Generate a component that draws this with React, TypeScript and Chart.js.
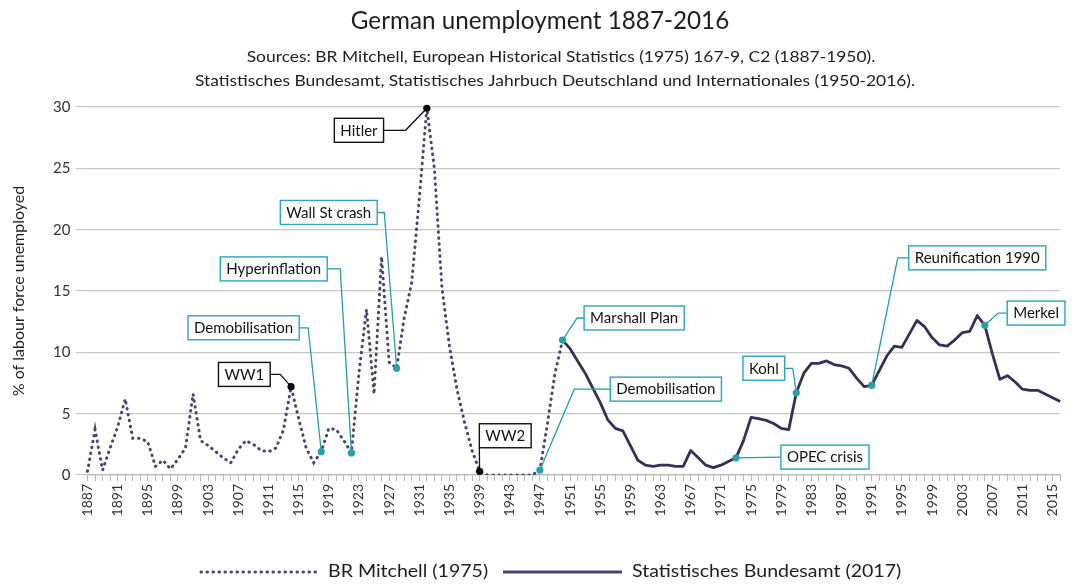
import React, { useEffect, useRef } from 'react';
import { Chart, registerables } from 'chart.js';

Chart.register(...registerables);

// ---------- data ----------
const FIRST_YEAR = 1887;
const LAST_YEAR = 2016;
const YEARS: number[] = [];
for (let yr = FIRST_YEAR; yr <= LAST_YEAR; yr++) YEARS.push(yr);

// BR Mitchell (1975), 1887-1950
const MITCHELL_START = 1887;
const MITCHELL = [
  0.3, 3.7, 0.4, 2.2, 3.9, 6.2, 3.0, 3.0, 2.7, 0.7, // 1887-1896
  1.2, 0.5, 1.3, 2.2, 6.6, 2.8, 2.4, 1.9, 1.4, 1.0, // 1897-1906
  2.1, 2.8, 2.5, 2.0, 1.9, 2.2, 3.7, 7.2, 4.6, 2.2, // 1907-1916
  1.0, 1.9, 3.8, 3.7, 2.8, 1.8, 8.3, 13.5, 6.6, 17.8, // 1917-1926
  9.2, 8.7, 12.8, 15.7, 22.5, 29.9, 25.0, 15.3, 10.5, 7.0, // 1927-1936
  4.3, 2.0, 0.3, 0, 0, 0, 0, 0, 0, 0, // 1937-1946
  0.4, 4.2, 8.3, 11.0, // 1947-1950
];

// Statistisches Bundesamt (2017), 1950-2016
const BUNDESAMT_START = 1950;
const BUNDESAMT = [
  11.0, 10.3, 9.3, 8.3, 7.1, 5.9, 4.5, 3.8, 3.6, 2.4, // 1950-1959
  1.2, 0.8, 0.7, 0.8, 0.8, 0.7, 0.7, 2.0, 1.4, 0.8, // 1960-1969
  0.6, 0.8, 1.1, 1.4, 2.8, 4.7, 4.6, 4.45, 4.2, 3.8, // 1970-1979
  3.7, 6.7, 8.3, 9.1, 9.1, 9.3, 9.0, 8.9, 8.7, 7.9, // 1980-1989
  7.2, 7.3, 8.5, 9.7, 10.5, 10.4, 11.5, 12.6, 12.1, 11.2, // 1990-1999
  10.6, 10.5, 11.0, 11.6, 11.7, 13.0, 12.2, 9.9, 7.8, 8.1, // 2000-2009
  7.6, 7.0, 6.9, 6.9, 6.6, 6.3, 6.0, // 2010-2016
];

const SERIES_NAMES = ['BR Mitchell (1975)', 'Statistisches Bundesamt (2017)'];
const TITLE = 'German unemployment 1887-2016';
const SUBTITLE = [
  'Sources: BR Mitchell, European Historical Statistics (1975) 167-9, C2 (1887-1950).',
  'Statistisches Bundesamt, Statistisches Jahrbuch Deutschland und Internationales (1950-2016).',
];
const Y_TITLE = '% of labour force unemployed';
const Y_MIN = 0;
const Y_MAX = 30;
const Y_STEP = 5;
const X_LABEL_EVERY = 4;

// events marked on the chart
const EVENT_LABELS = ['WW1', 'Demobilisation', 'Hyperinflation', 'Wall St crash', 'Hitler', 'WW2', 'Demobilisation', 'Marshall Plan', 'OPEC crisis', 'Kohl', 'Reunification 1990', 'Merkel'];
const EVENT_YEARS = [1914, 1918, 1922, 1928, 1932, 1939, 1947, 1950, 1973, 1981, 1991, 2006];
const EVENT_SERIES = ['m', 'm', 'm', 'm', 'm', 'm', 'm', 'm', 's', 's', 's', 's'];

// callout layout (box centre in axis units, leader style)
const CALLOUT_LAYOUT = [
  { tone: 'black', bx: 1907.8, by: 8.2, side: 'right', elbow: 10 },
  { tone: 'teal', bx: 1907.7, by: 12.0, side: 'right', elbow: 9 },
  { tone: 'teal', bx: 1911.7, by: 16.8, side: 'right', elbow: 13 },
  { tone: 'teal', bx: 1919.0, by: 21.4, side: 'right', elbow: 7 },
  { tone: 'black', bx: 1923.0, by: 28.1, side: 'right', elbow: 22 },
  { tone: 'black', bx: 1942.4, by: 3.2, side: 'below', elbow: 0 },
  { tone: 'teal', bx: 1963.7, by: 7.0, side: 'left', elbow: 36 },
  { tone: 'teal', bx: 1959.5, by: 12.8, side: 'left', elbow: 7 },
  { tone: 'teal', bx: 1984.8, by: 1.46, side: 'left', elbow: 0 },
  { tone: 'teal', bx: 1976.7, by: 8.7, side: 'right', elbow: 8 },
  { tone: 'teal', bx: 2005.0, by: 17.7, side: 'left', elbow: 11 },
  { tone: 'teal', bx: 2012.8, by: 13.2, side: 'left', elbow: 9 },
];

// ---------- styles ----------
const FONT = 'Lato, "Open Sans", sans-serif';
const DOT_COLOR = '#4b4470';
const SOLID_COLOR = '#35305a';
const TEAL_LINE = '#22a0a6';
const TEAL_BOX = '#2ba3c2';
const TEAL_MARK = '#2a9fa8';

const mitchellFull = YEARS.map((yr) => {
  const i = yr - MITCHELL_START;
  return i >= 0 && i < MITCHELL.length ? MITCHELL[i] : null;
});
const bundesamtFull = YEARS.map((yr) => {
  const i = yr - BUNDESAMT_START;
  return i >= 0 && i < BUNDESAMT.length ? BUNDESAMT[i] : null;
});

function stretchedText(ctx: CanvasRenderingContext2D, text: string, x: number, y: number, sx: number, align: 'left' | 'center') {
  ctx.save();
  ctx.translate(x, y);
  ctx.scale(sx, 1);
  ctx.textAlign = align;
  ctx.fillText(text, 0, 0);
  ctx.restore();
}

const decorPlugin = {
  id: 'decor',
  beforeDraw(chart: any) {
    const ctx = chart.ctx as CanvasRenderingContext2D;
    ctx.save();
    ctx.fillStyle = '#ffffff';
    ctx.fillRect(0, 0, chart.width, chart.height);
    ctx.fillStyle = '#1e1e1e';
    ctx.textBaseline = 'middle';
    ctx.font = `25px ${FONT}`;
    stretchedText(ctx, TITLE, 540, 21, 0.97, 'center');
    ctx.font = `15px ${FONT}`;
    stretchedText(ctx, SUBTITLE[0], 561, 57, 1.16, 'center');
    stretchedText(ctx, SUBTITLE[1], 555, 81, 1.16, 'center');

    ctx.save();
    ctx.translate(19, 291);
    ctx.rotate(-Math.PI / 2);
    ctx.font = `16px ${FONT}`;
    ctx.textAlign = 'center';
    ctx.fillText(Y_TITLE, 0, 0);
    ctx.restore();

    // legend
    const ly = 572;
    ctx.font = `17px ${FONT}`;
    ctx.lineCap = 'round';
    ctx.strokeStyle = DOT_COLOR;
    ctx.lineWidth = 3;
    ctx.setLineDash([0.5, 5.5]);
    ctx.beginPath();
    ctx.moveTo(201, ly);
    ctx.lineTo(318, ly);
    ctx.stroke();
    stretchedText(ctx, SERIES_NAMES[0], 328, ly, 1.15, 'left');
    ctx.setLineDash([]);
    ctx.lineCap = 'butt';
    ctx.strokeStyle = '#4a4080';
    ctx.beginPath();
    ctx.moveTo(503, ly);
    ctx.lineTo(622, ly);
    ctx.stroke();
    stretchedText(ctx, SERIES_NAMES[1], 632, ly, 1.15, 'left');
    ctx.restore();
  },
  afterDatasetsDraw(chart: any) {
    const ctx = chart.ctx as CanvasRenderingContext2D;
    const xs = chart.scales.x;
    const ys = chart.scales.y;
    ctx.save();
    ctx.font = `15px ${FONT}`;
    EVENT_LABELS.forEach((label, k) => {
      const lay = CALLOUT_LAYOUT[k];
      const idx = EVENT_YEARS[k] - FIRST_YEAR;
      const val = EVENT_SERIES[k] === 'm' ? mitchellFull[idx] : bundesamtFull[idx];
      const px = xs.getPixelForValue(idx);
      const py = ys.getPixelForValue(val);
      const cx = xs.getPixelForValue(lay.bx - FIRST_YEAR);
      const cy = ys.getPixelForValue(lay.by);
      const tw = ctx.measureText(label).width;
      const w = tw + 12;
      const h = 24;
      const black = lay.tone === 'black';
      // leader
      ctx.strokeStyle = black ? '#111111' : TEAL_LINE;
      ctx.lineWidth = 1.3;
      ctx.setLineDash([]);
      ctx.beginPath();
      if (lay.side === 'right') {
        const sx = cx + w / 2;
        ctx.moveTo(sx, cy);
        ctx.lineTo(sx + lay.elbow, cy);
        ctx.lineTo(px, py);
      } else if (lay.side === 'left') {
        const sx = cx - w / 2;
        ctx.moveTo(sx, cy);
        ctx.lineTo(sx - lay.elbow, cy);
        ctx.lineTo(px, py);
      } else {
        ctx.moveTo(cx - w / 2, cy + h / 2);
        ctx.lineTo(px, py);
      }
      ctx.stroke();
      // marker
      ctx.fillStyle = black ? '#000000' : TEAL_MARK;
      ctx.beginPath();
      ctx.arc(px, py, 3.6, 0, Math.PI * 2);
      ctx.fill();
      // box
      ctx.fillStyle = '#ffffff';
      ctx.fillRect(cx - w / 2, cy - h / 2, w, h);
      ctx.strokeStyle = black ? '#111111' : TEAL_BOX;
      ctx.lineWidth = 1.4;
      ctx.strokeRect(cx - w / 2, cy - h / 2, w, h);
      ctx.fillStyle = '#111111';
      ctx.textAlign = 'center';
      ctx.textBaseline = 'middle';
      ctx.fillText(label, cx, cy + 0.5);
    });
    ctx.restore();
  },
};

export default function App() {
  const ref = useRef<HTMLCanvasElement | null>(null);
  useEffect(() => {
    if (!ref.current) return;
    const chart = new Chart(ref.current, {
      type: 'line',
      data: {
        labels: YEARS.map(String),
        datasets: [
          {
            label: SERIES_NAMES[0],
            data: mitchellFull,
            borderColor: DOT_COLOR,
            borderWidth: 3,
            borderDash: [0.5, 5.5],
            borderCapStyle: 'round',
            pointRadius: 0,
            tension: 0,
            spanGaps: false,
          },
          {
            label: SERIES_NAMES[1],
            data: bundesamtFull,
            borderColor: SOLID_COLOR,
            borderWidth: 2.8,
            borderJoinStyle: 'round',
            pointRadius: 0,
            tension: 0,
            spanGaps: false,
          },
        ],
      },
      options: {
        responsive: false,
        animation: false,
        layout: { padding: { top: 107, bottom: 60, left: 0, right: 10 } },
        plugins: {
          legend: { display: false },
          title: { display: false },
          tooltip: { enabled: false },
        },
        scales: {
          x: {
            type: 'category',
            offset: false,
            grid: { display: true, drawOnChartArea: false, drawTicks: true, tickLength: 6, color: '#b8b8b8' },
            border: { display: true, color: '#b8b8b8', width: 1.2 },
            ticks: {
              autoSkip: false,
              minRotation: 90,
              maxRotation: 90,
              padding: 3,
              color: '#333333',
              font: { family: FONT, size: 14 },
              callback: (_v: any, i: number) => (i % X_LABEL_EVERY === 0 ? String(YEARS[i]) : ''),
            },
            afterFit: (s: any) => {
              s.height = 50;
            },
          },
          y: {
            min: Y_MIN,
            max: Y_MAX,
            ticks: { stepSize: Y_STEP, padding: 5, color: '#333333', font: { family: FONT, size: 15 } },
            grid: { color: '#c8c8c8', lineWidth: 1.2, tickLength: 12 },
            border: { display: false },
            afterFit: (s: any) => {
              s.width = 87.5;
            },
          },
        },
      },
      plugins: [decorPlugin],
    } as any);
    return () => chart.destroy();
  }, []);
  return (
    <div style={{ position: 'absolute', left: 0, top: 0, width: 1080, height: 585 }}>
      <canvas ref={ref} width={1080} height={585} />
    </div>
  );
}
